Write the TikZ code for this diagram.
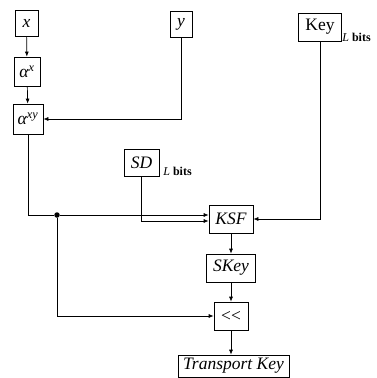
\documentclass[tikz,border=0pt]{standalone}
\usepackage{fontspec}
\setmainfont{Liberation Serif}
\usetikzlibrary{arrows.meta}

\begin{document}
\begin{tikzpicture}[
  x=1pt, y=-1pt,
  >={Latex[length=5pt,width=4pt]},
  every path/.style={line width=0.7pt},
  blk/.style={draw, minimum height=27pt, inner sep=2pt, font=\fontsize{17.5}{20}\selectfont\itshape},
  bits/.style={font=\fontsize{12}{14}\selectfont, inner sep=0pt, anchor=west},
  dot/.style={circle, fill, inner sep=0pt, minimum size=5.5pt}
]
\useasboundingbox (0,0) rectangle (376,378);

\node[blk, minimum width=23pt, minimum height=26pt] (x) at (26.5,23) {x};
\node[blk, minimum width=26pt, minimum height=29pt] (ax) at (27,71.5) {α\textsuperscript{x}};
\node[blk, minimum width=30pt, minimum height=30pt] (axy) at (28,119) {α\textsuperscript{xy}};
\node[blk, minimum width=22pt, minimum height=26pt] (y) at (181,24) {y};
\node[blk, minimum width=43pt, minimum height=28pt, font=\fontsize{17.5}{20}\selectfont] (key) at (320,27) {Key};
\node[bits] (keybits) at (342,37) {\textit{L} \textbf{bits}};
\node[blk, minimum width=35pt] (sd) at (141.5,162.5) {SD};
\node[bits] (sdbits) at (163,171) {\textit{L} \textbf{bits}};
\node[blk, minimum width=44pt, minimum height=28pt] (ksf) at (231,219) {KSF};
\node[blk, minimum width=49pt, minimum height=28pt] (skey) at (231,268) {SKey};
\node[blk, minimum width=34pt, minimum height=28pt, font=\fontsize{17.5}{20}\selectfont] (shift) at (231,316) {<{}<};
\node[blk, minimum width=111pt, minimum height=22pt] (tkey) at (233.5,366) {Transport Key};

\node[dot] (split) at (57,215) {};
\coordinate (in1) at ([yshift=4pt]ksf.west);
\coordinate (in2) at ([yshift=-2pt]ksf.west);

% exponent chain
\draw[->] (x) -- (ax);
\draw[->] (ax) -- (axy);
\draw[->] (y.south) |- (axy.east);

% inputs of KSF
\draw (axy.south) |- (split);
\draw[->] (split) -- (in1);
\draw[->] (sd.south) |- (in2);
\draw[->] (key.south) |- (ksf.east);

% output side
\draw[->] (ksf) -- (skey);
\draw[->] (skey) -- (shift);
\draw[->] (split) |- (shift.west);
\draw[->] (shift.south) -- (shift.south |- tkey.north);
\end{tikzpicture}
\end{document}
